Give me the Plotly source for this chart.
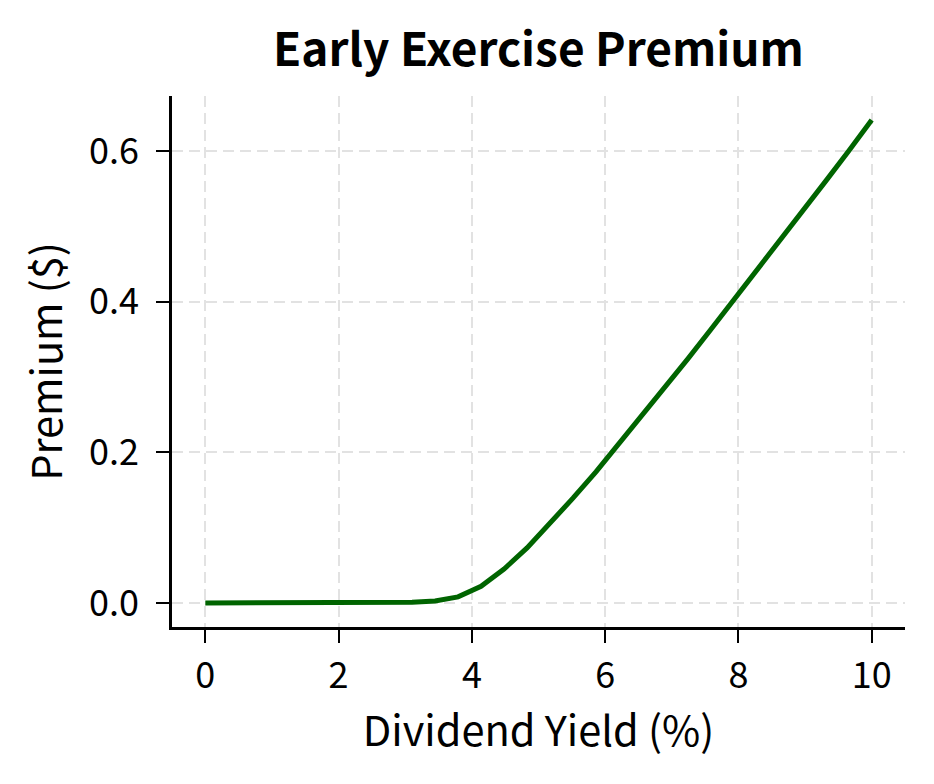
import numpy as np
import plotly.graph_objects as go

# Data
dividend_yield = [0.0, 0.345, 0.690, 1.034, 1.379, 1.724, 2.069, 2.414, 2.759,
                  3.103, 3.448, 3.793, 4.138, 4.483, 4.828, 5.172, 5.517, 5.862,
                  6.207, 6.552, 6.897, 7.241, 7.586, 7.931, 8.276, 8.621, 8.966,
                  9.310, 9.655, 10.0]
premium = [0.0, 0.0, 0.0, 0.0, 0.0, 0.0, 0.0, 0.0, 0.0002,
           0.0007, 0.0025, 0.008, 0.022, 0.045, 0.073, 0.105, 0.139, 0.174,
           0.211, 0.248, 0.286, 0.324, 0.363, 0.402, 0.441, 0.481, 0.520,
           0.560, 0.600, 0.641]
x_ticks = [0, 2, 4, 6, 8, 10]
y_ticks = [0.0, 0.2, 0.4, 0.6]
y_tick_labels = ["0.0", "0.2", "0.4", "0.6"]

FONT = "Noto Sans CJK SC"
OFF = 8  # page body margin offset

W, H = 934 - OFF, 784 - OFF
L, R, T, B = 172 - OFF, 29, 96 - OFF, 157

fig = go.Figure()
fig.add_trace(go.Scatter(x=dividend_yield, y=premium, mode="lines",
                         line=dict(color="#006400", width=5),
                         showlegend=False, hoverinfo="skip"))

axis_common = dict(
    showline=True, linecolor="black", linewidth=2.5, mirror=False,
    ticks="outside", ticklen=13, tickwidth=2.4, tickcolor="black",
    showgrid=True, gridcolor="#e2e2e2", gridwidth=2.4, griddash="11px,6px",
    zeroline=False,
    tickfont=dict(family=FONT, size=36, color="black"),
)

fig.update_layout(
    width=W, height=H,
    paper_bgcolor="white", plot_bgcolor="white",
    margin=dict(l=L, r=R, t=T, b=B),
    font=dict(family=FONT, color="black"),
    title=dict(text="<b>Early Exercise Premium</b>",
               x=((172 + 905) / 2 - OFF) / W, xanchor="center",
               y=1 - (50 - OFF) / H, yanchor="middle",
               font=dict(family=FONT, size=46, color="black")),
    xaxis=dict(range=[-0.5, 10.5], tickvals=x_ticks, ticktext=[str(v) for v in x_ticks],
               title=dict(text="Dividend Yield (%)", font=dict(family=FONT, size=41.5), standoff=13),
               ticklabelstandoff=2,
               **axis_common),
    yaxis=dict(range=[-0.032, 0.673], tickvals=y_ticks, ticktext=y_tick_labels,
               title=dict(text="Premium ($)", font=dict(family=FONT, size=41.5), standoff=14),
               ticklabelstandoff=10,
               **axis_common),
)

fig.write_html("out.html")
